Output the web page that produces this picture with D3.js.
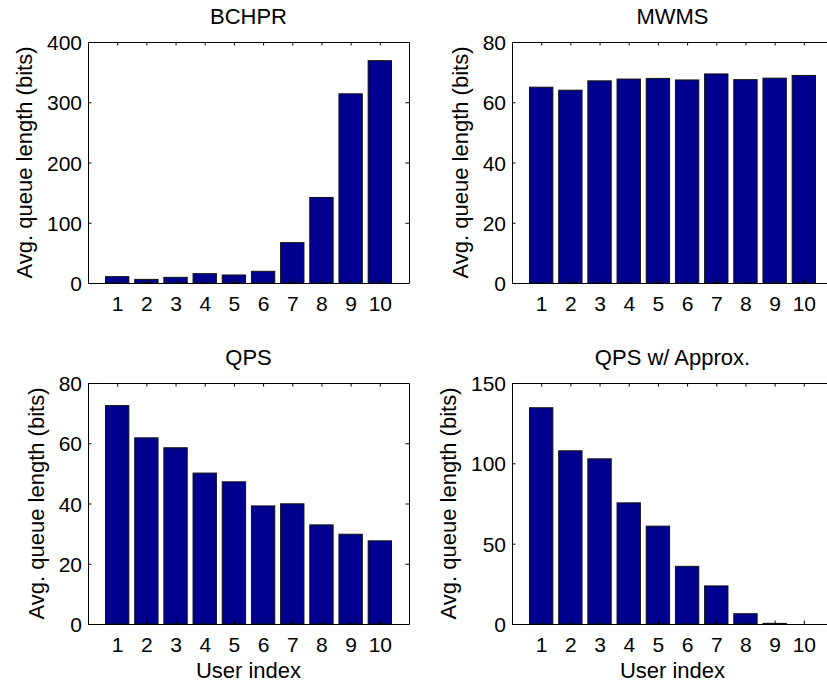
<!DOCTYPE html>
<html>
<head>
<meta charset="utf-8">
<script src="https://cdn.jsdelivr.net/npm/d3@7/dist/d3.min.js"></script>
<style>
    body { margin: 0; background: #fff; }
    text { font-family: "Liberation Sans", Arial, Helvetica, sans-serif; font-size: 22px; fill: #000; }
</style>
</head>
<body>
<div id="chart"></div>
<script>
var users = [1, 2, 3, 4, 5, 6, 7, 8, 9, 10];

var bchprValues = [10.5, 6, 9.4, 15.5, 13.3, 19.4, 67, 142, 314, 369];
var mwmsValues = [65.0, 64.0, 67.1, 67.7, 67.9, 67.4, 69.4, 67.5, 68.0, 68.9];
var qpsValues = [72.5, 61.8, 58.5, 50.1, 47.2, 39.2, 39.9, 32.9, 29.8, 27.6];
var qpsApproxValues = [134.6, 107.8, 102.8, 75.4, 60.9, 35.9, 23.7, 6.4, 0.4, 0];

var bchprTicks = [0, 100, 200, 300, 400];
var mwmsTicks = [0, 20, 40, 60, 80];
var qpsTicks = [0, 20, 40, 60, 80];
var qpsApproxTicks = [0, 50, 100, 150];

var titles = ["BCHPR", "MWMS", "QPS", "QPS w/ Approx."];
var yLabel = "Avg. queue length (bits)";
var xLabel = "User index";

var svgWidth = 827;
var svgHeight = 685;
var plotWidth = 321;
var plotHeight = 241;
var barColor = "#00008f";

var panels = [
    {title: titles[0], values: bchprValues, ticks: bchprTicks, left: 88, top: 42, xlab: false},
    {title: titles[1], values: mwmsValues, ticks: mwmsTicks, left: 512, top: 42, xlab: false},
    {title: titles[2], values: qpsValues, ticks: qpsTicks, left: 88, top: 383, xlab: true},
    {title: titles[3], values: qpsApproxValues, ticks: qpsApproxTicks, left: 512, top: 383, xlab: true}
];

var svg = d3.select("#chart").append("svg")
    .attr("width", svgWidth)
    .attr("height", svgHeight);

panels.forEach(function(p) {
    var g = svg.append("g").attr("transform", "translate(" + p.left + "," + p.top + ")");
    var yMax = p.ticks[p.ticks.length - 1];

    var x = d3.scaleLinear().domain([0, 11]).range([0, plotWidth]);
    var y = d3.scaleLinear().domain([0, yMax]).range([plotHeight, 0]);
    var barW = x(0.8) - x(0);

    // bars
    g.selectAll("rect.bar")
        .data(p.values)
        .enter().append("rect")
        .attr("class", "bar")
        .attr("x", function(d, i) { return x(users[i]) - barW / 2; })
        .attr("y", function(d) { return y(d); })
        .attr("width", barW)
        .attr("height", function(d) { return plotHeight - y(d); })
        .attr("fill", barColor)
        .attr("stroke", "#111")
        .attr("stroke-width", 1);

    // axes, ticks inward on all four sides (matlab box style)
    var tickLen = 3.5;
    var xBottom = d3.axisBottom(x).tickValues(users).tickSizeInner(-tickLen).tickSizeOuter(0).tickPadding(13);
    var xTop = d3.axisTop(x).tickValues(users).tickSizeInner(-tickLen).tickSizeOuter(0).tickFormat("");
    var yLeft = d3.axisLeft(y).tickValues(p.ticks).tickSizeInner(-tickLen).tickSizeOuter(0).tickPadding(6);
    var yRight = d3.axisRight(y).tickValues(p.ticks).tickSizeInner(-tickLen).tickSizeOuter(0).tickFormat("");

    var gx = g.append("g").attr("transform", "translate(0," + plotHeight + ")").call(xBottom);
    g.append("g").call(xTop);
    var gy = g.append("g").call(yLeft);
    g.append("g").attr("transform", "translate(" + plotWidth + ",0)").call(yRight);

    g.selectAll(".domain").attr("stroke", "#000").attr("stroke-width", 1);
    g.selectAll(".tick line").attr("stroke", "#000");
    g.selectAll(".tick text").style("font-size", "21px").attr("font-family", null);
    gx.selectAll(".tick text").attr("dy", "0.71em");
    gy.selectAll(".tick text").attr("dy", "0.36em");

    // title
    g.append("text")
        .attr("x", plotWidth / 2)
        .attr("y", -18)
        .attr("text-anchor", "middle")
        .text(p.title);

    // ylabel placed just outside the widest tick label
    var maxW = 0;
    gy.selectAll(".tick text").each(function() {
        maxW = Math.max(maxW, this.getBBox().width);
    });
    var labelX = -6 - maxW - 15;
    g.append("text")
        .attr("transform", "translate(" + labelX + "," + (plotHeight / 2) + ") rotate(-90)")
        .attr("text-anchor", "middle")
        .text(yLabel);

    if (p.xlab) {
        g.append("text")
            .attr("x", plotWidth / 2)
            .attr("y", plotHeight + 54)
            .attr("text-anchor", "middle")
            .text(xLabel);
    }
});
</script>
</body>
</html>
